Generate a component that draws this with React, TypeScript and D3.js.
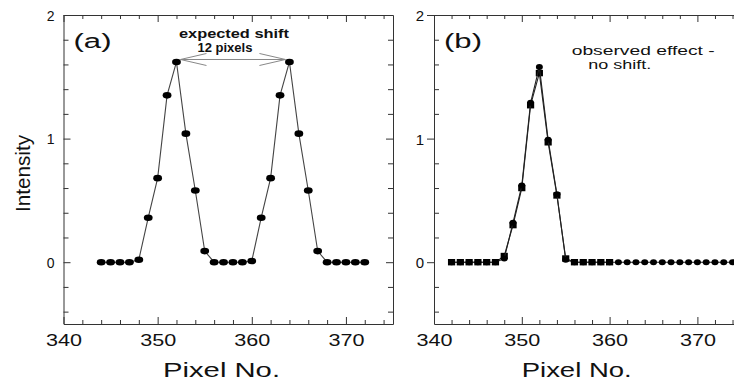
import React, { useRef, useEffect } from 'react';
import * as d3 from 'd3';

// panel (a): two peaks, expected shift of 12 pixels
const pixelsA = [344, 345, 346, 347, 348, 349, 350, 351, 352, 353, 354, 355, 356, 357, 358, 359,
  360, 361, 362, 363, 364, 365, 366, 367, 368, 369, 370, 371, 372];
const intensityA = [0, 0, 0, 0, 0.02, 0.36, 0.68, 1.35, 1.62, 1.04, 0.58, 0.09, 0, 0, 0, 0,
  0.01, 0.36, 0.68, 1.35, 1.62, 1.04, 0.58, 0.09, 0, 0, 0, 0, 0];

// panel (b): observed, two overlaid runs
const pixelsB1 = [342, 343, 344, 345, 346, 347, 348, 349, 350, 351, 352, 353, 354, 355, 356, 357,
  358, 359, 360, 361, 362, 363, 364, 365, 366, 367, 368, 369, 370, 371, 372, 373, 374, 375];
const intensityB1 = [0, 0, 0, 0, 0, 0, 0.03, 0.32, 0.62, 1.29, 1.58, 0.99, 0.55, 0.02, 0, 0,
  0, 0, 0, 0, 0, 0, 0, 0, 0, 0, 0, 0, 0, 0, 0, 0, 0, 0];
const pixelsB2 = [342, 343, 344, 345, 346, 347, 348, 349, 350, 351, 352, 353, 354, 355, 356, 357,
  358, 359, 360];
const intensityB2 = [0, 0, 0, 0, 0, 0, 0.05, 0.3, 0.6, 1.27, 1.53, 0.97, 0.54, 0.03, 0, 0,
  0, 0, 0];

const xTicks = [340, 350, 360, 370];
const yTicks = [0, 1, 2];
const xDomain = [340, 375];
const yDomain = [-0.5, 2];

const FONT = 'Liberation Sans, Arial, sans-serif';
const INK = '#333';

const zip = (xs, ys) => xs.map((v, i) => [v, ys[i]]);

function drawFrame(g, x, y, opts) {
  const [x0, x1] = x.range();
  const [yb, yt] = y.range();
  const minorX = d3.range(340, 376, 2).filter(v => v % 10 !== 0);
  const minorY = d3.range(-4, 20, 2).map(v => v / 10).filter(v => Math.abs(v - Math.round(v)) > 1e-6);

  const style = sel => {
    sel.select('.domain').attr('stroke', INK);
    sel.selectAll('.tick line').attr('stroke', INK);
    sel.attr('font-family', FONT).attr('fill', '#111');
  };

  // bottom
  g.append('g').attr('transform', `translate(0,${yb})`)
    .call(d3.axisBottom(x).tickValues(xTicks).tickSizeInner(-7).tickSizeOuter(0))
    .call(style)
    .call(s => s.selectAll('.tick text')
      .attr('y', 11).attr('dy', '0.71em').attr('font-size', 16)
      .attr('fill', '#111').attr('textLength', 36).attr('lengthAdjust', 'spacingAndGlyphs'));
  g.append('g').attr('transform', `translate(0,${yb})`)
    .call(d3.axisBottom(x).tickValues(minorX).tickSizeInner(-4).tickSizeOuter(0).tickFormat(() => ''))
    .call(style).call(s => s.select('.domain').remove());

  // top
  g.append('g').attr('transform', `translate(0,${yt})`)
    .call(d3.axisTop(x).tickValues(xTicks).tickSizeInner(-7).tickSizeOuter(0).tickFormat(() => ''))
    .call(style);
  g.append('g').attr('transform', `translate(0,${yt})`)
    .call(d3.axisTop(x).tickValues(minorX).tickSizeInner(-4).tickSizeOuter(0).tickFormat(() => ''))
    .call(style).call(s => s.select('.domain').remove());

  // left
  g.append('g').attr('transform', `translate(${x0},0)`)
    .call(d3.axisLeft(y).tickValues(yTicks).tickSizeInner(opts.majorOut ? 7 : -7).tickSizeOuter(0).tickFormat(d3.format('d')))
    .call(style)
    .call(s => s.selectAll('.tick text')
      .attr('x', opts.labelDx).attr('dy', '0.36em').attr('font-size', opts.yFont)
      .attr('fill', '#111'));
  g.append('g').attr('transform', `translate(${x0},0)`)
    .call(d3.axisLeft(y).tickValues(minorY).tickSizeInner(-5).tickSizeOuter(0).tickFormat(() => ''))
    .call(style).call(s => s.select('.domain').remove());

  // right
  g.append('g').attr('transform', `translate(${x1},0)`)
    .call(d3.axisRight(y).tickValues(yTicks).tickSizeInner(-7).tickSizeOuter(0).tickFormat(() => ''))
    .call(style);
  g.append('g').attr('transform', `translate(${x1},0)`)
    .call(d3.axisRight(y).tickValues(minorY).tickSizeInner(-5).tickSizeOuter(0).tickFormat(() => ''))
    .call(style).call(s => s.select('.domain').remove());

  g.append('text')
    .attr('x', opts.xLabelX).attr('y', 377)
    .attr('font-family', FONT).attr('font-size', 21).attr('fill', '#111')
    .attr('textLength', opts.xLabelLen).attr('lengthAdjust', 'spacingAndGlyphs')
    .text('Pixel No.');

  g.append('text')
    .attr('x', x0 + 10).attr('y', 47.5)
    .attr('font-family', FONT).attr('font-size', 20).attr('fill', '#111')
    .attr('textLength', 38).attr('lengthAdjust', 'spacingAndGlyphs')
    .text(opts.tag);
}

function drawSeries(g, x, y, data, marker, color) {
  const line = d3.line().x(d => x(d[0])).y(d => y(d[1]));
  g.append('path').datum(data)
    .attr('d', line).attr('fill', 'none').attr('stroke', color).attr('stroke-width', 1.1);
  if (marker === 'square') {
    g.append('g').selectAll('rect').data(data).join('rect')
      .attr('x', d => x(d[0]) - 3.6).attr('y', d => y(d[1]) - 3.2)
      .attr('width', 7.2).attr('height', 6.4).attr('fill', '#000');
  } else {
    g.append('g').selectAll('ellipse').data(data).join('ellipse')
      .attr('cx', d => x(d[0])).attr('cy', d => y(d[1]))
      .attr('rx', marker === 'big' ? 4.4 : 3.5).attr('ry', marker === 'big' ? 3.3 : 3)
      .attr('fill', '#000');
  }
}

const App = () => {
  const svgRef = useRef(null);

  useEffect(() => {
    const svg = d3.select(svgRef.current);
    svg.selectAll('*').remove();

    // panel (a)
    const xa = d3.scaleLinear().domain(xDomain).range([63.5, 393]);
    const ya = d3.scaleLinear().domain(yDomain).range([324, 15]);
    const ga = svg.append('g');
    drawFrame(ga, xa, ya, { majorOut: false, labelDx: -9, yFont: 14, xLabelX: 163, xLabelLen: 117, tag: '(a)' });
    drawSeries(ga, xa, ya, zip(pixelsA, intensityA), 'big', '#444');

    // arrow between the two peak tops
    const ay = ya(1.64);
    const ax0 = xa(352) + 4;
    const ax1 = xa(364) - 4;
    const arrow = ga.append('g').attr('stroke', '#888').attr('stroke-width', 1).attr('fill', 'none');
    arrow.append('line').attr('x1', ax0).attr('x2', ax1).attr('y1', ay).attr('y2', ay);
    arrow.append('path').attr('d', `M${ax0 + 26},${ay - 6}L${ax0},${ay}L${ax0 + 26},${ay + 6}`);
    arrow.append('path').attr('d', `M${ax1 - 26},${ay - 6}L${ax1},${ay}L${ax1 - 26},${ay + 6}`);
    const mid = (ax0 + ax1) / 2;
    ga.append('text').attr('x', mid + 1).attr('y', 37.5).attr('text-anchor', 'middle')
      .attr('font-family', FONT).attr('font-size', 12).attr('font-weight', 'bold').attr('fill', '#111')
      .attr('textLength', 110).attr('lengthAdjust', 'spacingAndGlyphs').text('expected shift');
    ga.append('text').attr('x', mid - 8).attr('y', 51.5).attr('text-anchor', 'middle')
      .attr('font-family', FONT).attr('font-size', 12).attr('font-weight', 'bold').attr('fill', '#111')
      .attr('textLength', 55).attr('lengthAdjust', 'spacingAndGlyphs').text('12 pixels');

    ga.append('text')
      .attr('transform', 'translate(30,173.5) rotate(-90)')
      .attr('text-anchor', 'middle')
      .attr('font-family', FONT).attr('font-size', 21).attr('fill', '#111')
      .attr('textLength', 77).attr('lengthAdjust', 'spacingAndGlyphs')
      .text('Intensity');

    // panel (b)
    const xb = d3.scaleLinear().domain(xDomain).range([434, 741.3]);
    const yb = d3.scaleLinear().domain(yDomain).range([324, 15]);
    const gb = svg.append('g');
    drawFrame(gb, xb, yb, { majorOut: true, labelDx: -10, yFont: 15, xLabelX: 521.7, xLabelLen: 110, tag: '(b)' });
    drawSeries(gb, xb, yb, zip(pixelsB2, intensityB2), 'square', '#222');
    drawSeries(gb, xb, yb, zip(pixelsB1, intensityB1), 'small', '#222');

    gb.append('text').attr('x', 571.7).attr('y', 54.5)
      .attr('font-family', FONT).attr('font-size', 12).attr('fill', '#111')
      .attr('textLength', 143).attr('lengthAdjust', 'spacingAndGlyphs').text('observed effect -');
    gb.append('text').attr('x', 588.3).attr('y', 68.5)
      .attr('font-family', FONT).attr('font-size', 12).attr('fill', '#111')
      .attr('textLength', 63).attr('lengthAdjust', 'spacingAndGlyphs').text('no shift.');
  }, []);

  return (
    <svg
      ref={svgRef}
      width={734}
      height={382}
      style={{ position: 'absolute', left: 0, top: 0, background: '#fff' }}
    />
  );
};

export default App;
